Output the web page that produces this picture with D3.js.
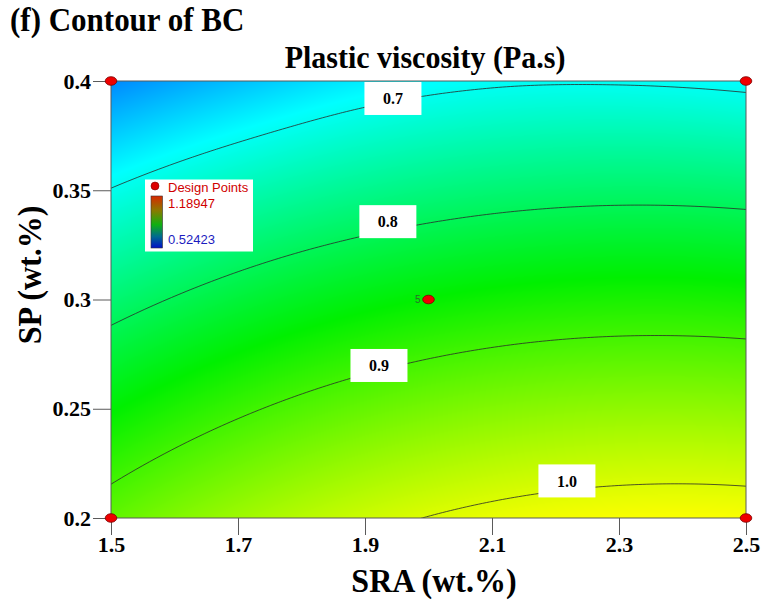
<!DOCTYPE html>
<html>
<head>
<meta charset="utf-8">
<script src="https://cdn.jsdelivr.net/npm/d3@7"></script>
<style>
  body { margin: 0; background: #fff; }
  svg { display: block; }
</style>
</head>
<body>
<svg id="chart" width="761" height="601"></svg>
<script>
// Plastic viscosity (Pa.s) surface over the SRA / SP design space
const sraLevels = [1.5, 1.7, 1.9, 2.1, 2.3, 2.5];
const spLevels = [0.2, 0.25, 0.3, 0.35, 0.4];
// one row per SP level (0.2 -> 0.4), one column per SRA level
const viscosity = [
  [0.9191, 0.9594, 0.9897, 1.0098, 1.0198, 1.0197],
  [0.8546, 0.8937, 0.9228, 0.9417, 0.9505, 0.9492],
  [0.7821, 0.8200, 0.8479, 0.8656, 0.8732, 0.8707],
  [0.7016, 0.7383, 0.7650, 0.7815, 0.7879, 0.7842],
  [0.6131, 0.6486, 0.6791, 0.6944, 0.6966, 0.6897]
];
const contourLevels = [0.7, 0.8, 0.9, 1.0];
const contourLabels = ["0.7", "0.8", "0.9", "1.0"];
const labelSRA = [1.944, 1.936, 1.922, 2.218];
const designSRA = [1.5, 1.5, 2.5, 2.5, 2.0];
const designSP = [0.2, 0.4, 0.2, 0.4, 0.3];
const designReps = [1, 1, 1, 1, 5];
const responseRange = [0.52423, 1.18947];
const responseRangeLabels = ["1.18947", "0.52423"];
const xTicks = [1.5, 1.7, 1.9, 2.1, 2.3, 2.5];
const xTickLabels = ["1.5", "1.7", "1.9", "2.1", "2.3", "2.5"];
const yTicks = [0.2, 0.25, 0.3, 0.35, 0.4];
const yTickLabels = ["0.2", "0.25", "0.3", "0.35", "0.4"];

const svg = d3.select("#chart");
const plot = { left: 111, right: 746, top: 81, bottom: 518 };
const pw = plot.right - plot.left, ph = plot.bottom - plot.top;

const x = d3.scaleLinear().domain([sraLevels[0], sraLevels[sraLevels.length - 1]]).range([plot.left, plot.right]);
const y = d3.scaleLinear().domain([spLevels[0], spLevels[spLevels.length - 1]]).range([plot.bottom, plot.top]);

// Smooth (Catmull-Rom) surface through the grid values
const uOf = d3.scaleLinear().domain(x.domain()).range([0, sraLevels.length - 1]);
const vOf = d3.scaleLinear().domain(y.domain()).range([0, spLevels.length - 1]);
function extend(p) {
  const n = p.length;
  return [3 * p[0] - 3 * p[1] + p[2], ...p, 3 * p[n - 1] - 3 * p[n - 2] + p[n - 3]];
}
const extRows = viscosity.map(extend);
function cubicExt(q, u) {
  const n = q.length - 2;
  const i = Math.max(0, Math.min(n - 2, Math.floor(u)));
  const s = u - i, s2 = s * s, s3 = s2 * s;
  const p0 = q[i + 1], p1 = q[i + 2];
  const m0 = (q[i + 2] - q[i]) / 2, m1 = (q[i + 3] - q[i + 1]) / 2;
  return (2 * s3 - 3 * s2 + 1) * p0 + (s3 - 2 * s2 + s) * m0 + (-2 * s3 + 3 * s2) * p1 + (s3 - s2) * m1;
}
function column(sra) {
  const u = uOf(sra);
  return extend(extRows.map(q => cubicExt(q, u)));
}
function surface(sra, sp) {
  return cubicExt(column(sra), vOf(sp));
}

// Colour ramp: blue -> cyan -> green -> yellow -> red across the response range
const [lo, hi] = responseRange;
const color = d3.scaleLinear()
  .domain(d3.range(5).map(i => lo + i * (hi - lo) / 4))
  .range(["#0000ff", "#00ffff", "#00f000", "#ffff00", "#ff0000"])
  .clamp(true);

// Filled surface rendered to a raster and placed in the plot
const canvas = document.createElement("canvas");
canvas.width = pw; canvas.height = ph;
const ctx = canvas.getContext("2d");
const img = ctx.createImageData(pw, ph);
for (let px = 0; px < pw; px++) {
  const sra = x.invert(plot.left + px + 0.5);
  const col = column(sra);
  for (let py = 0; py < ph; py++) {
    const sp = y.invert(plot.top + py + 0.5);
    const c = d3.rgb(color(cubicExt(col, vOf(sp))));
    const k = (py * pw + px) * 4;
    img.data[k] = c.r; img.data[k + 1] = c.g; img.data[k + 2] = c.b; img.data[k + 3] = 255;
  }
}
ctx.putImageData(img, 0, 0);

const defs = svg.append("defs");
defs.append("clipPath").attr("id", "plot-clip")
  .append("rect").attr("x", plot.left).attr("y", plot.top).attr("width", pw).attr("height", ph);

svg.append("image")
  .attr("x", plot.left).attr("y", plot.top)
  .attr("width", pw).attr("height", ph)
  .attr("preserveAspectRatio", "none")
  .attr("href", canvas.toDataURL());

// Contour lines from a fine resampling of the surface
const nx = 160, ny = 110;
const N = nx + 2, M = ny + 2;
const hx = (x.domain()[1] - x.domain()[0]) / (nx - 1);
const hy = (y.domain()[1] - y.domain()[0]) / (ny - 1);
const sraAt = c => x.domain()[0] + (c - 1.5) * hx;
const spAt = r => y.domain()[0] + (r - 1.5) * hy;
const values = new Array(N * M);
for (let j = 0; j < M; j++) {
  for (let i = 0; i < N; i++) {
    values[i + j * N] = surface(sraAt(i + 0.5), spAt(j + 0.5));
  }
}
const contours = d3.contours().size([N, M]).thresholds(contourLevels)(values);
const path = d3.geoPath(d3.geoTransform({
  point(c, r) { this.stream.point(x(sraAt(c)), y(spAt(r))); }
}));
svg.append("g").attr("clip-path", "url(#plot-clip)")
  .selectAll("path").data(contours).join("path")
  .attr("d", path)
  .attr("fill", "none")
  .attr("stroke", "#2a2a2a")
  .attr("stroke-width", 0.8);

// Contour labels on white boxes
function levelSP(sra, level) {
  let a = y.domain()[0], b = y.domain()[1];
  for (let k = 0; k < 50; k++) {
    const m = (a + b) / 2;
    if (surface(sra, m) > level) a = m; else b = m;
  }
  return (a + b) / 2;
}
const labelShift = [-3, -9, -5, -9];
const labels = svg.append("g").selectAll("g").data(contourLevels).join("g")
  .attr("transform", (d, i) => `translate(${x(labelSRA[i])},${y(levelSP(labelSRA[i], d)) + labelShift[i]})`);
labels.append("rect")
  .attr("x", -28.5).attr("y", -16.5).attr("width", 57).attr("height", 33)
  .attr("fill", "#fff");
labels.append("text")
  .attr("text-anchor", "middle").attr("dy", "0.35em")
  .attr("font-family", "'Liberation Serif', 'Times New Roman', serif")
  .attr("font-weight", "bold").attr("font-size", 16)
  .attr("fill", "#000")
  .text((d, i) => contourLabels[i]);

// Frame and axes
svg.append("rect")
  .attr("x", plot.left).attr("y", plot.top).attr("width", pw).attr("height", ph)
  .attr("fill", "none").attr("stroke", "#5a5a5a").attr("stroke-width", 1);

const serif = "'Liberation Serif', 'Times New Roman', serif";
const xAxis = svg.append("g").attr("transform", `translate(0,${plot.bottom})`)
  .call(d3.axisBottom(x).tickValues(xTicks).tickSize(17).tickPadding(1)
    .tickFormat((d, i) => xTickLabels[i]));
const yAxis = svg.append("g").attr("transform", `translate(${plot.left},0)`)
  .call(d3.axisLeft(y).tickValues(yTicks).tickSize(18).tickPadding(2)
    .tickFormat((d, i) => yTickLabels[i]));
[xAxis, yAxis].forEach(g => {
  g.select(".domain").remove();
  g.selectAll(".tick line").attr("stroke", "#5a5a5a");
  g.selectAll(".tick text")
    .attr("font-family", serif).attr("font-weight", "bold")
    .attr("font-size", 22).attr("fill", "#000");
});

// Design points
const pts = svg.append("g").selectAll("g").data(designSRA).join("g")
  .attr("transform", (d, i) => `translate(${x(d)},${y(designSP[i])})`);
pts.append("ellipse")
  .attr("rx", 5.8).attr("ry", 4.3)
  .attr("fill", "#ee0000").attr("stroke", "#7a0000").attr("stroke-width", 0.8);
pts.append("text")
  .attr("x", -8).attr("dy", "0.35em").attr("text-anchor", "end")
  .attr("font-family", "'Liberation Sans', Arial, sans-serif").attr("font-size", 10)
  .attr("fill", "#2d6b2d")
  .text((d, i) => designReps[i] > 1 ? designReps[i] : "");

// Legend
const sans = "'Liberation Sans', Arial, sans-serif";
const legend = svg.append("g");
legend.append("rect").attr("x", 145).attr("y", 179.5).attr("width", 108).attr("height", 72)
  .attr("fill", "#fff");
legend.append("ellipse").attr("cx", 155).attr("cy", 186).attr("rx", 4).attr("ry", 4)
  .attr("fill", "#dd0000").attr("stroke", "#7a0000").attr("stroke-width", 0.6);
legend.append("text").attr("x", 168).attr("y", 191.5)
  .attr("font-family", sans).attr("font-size", 13)
  .attr("fill", "#d00000").text("Design Points");
const grad = defs.append("linearGradient").attr("id", "ramp")
  .attr("x1", 0).attr("y1", 0).attr("x2", 0).attr("y2", 1);
[["0%", "#d82800"], ["28%", "#8a7a00"], ["55%", "#10b010"], ["78%", "#006a90"], ["100%", "#0010c8"]]
  .forEach(([o, c]) => grad.append("stop").attr("offset", o).attr("stop-color", c));
legend.append("rect").attr("x", 151).attr("y", 196).attr("width", 11.5).attr("height", 52)
  .attr("fill", "url(#ramp)").attr("stroke", "#333").attr("stroke-width", 0.6);
legend.append("text").attr("x", 168).attr("y", 208)
  .attr("font-family", sans).attr("font-size", 13)
  .attr("fill", "#d00000").text(responseRangeLabels[0]);
legend.append("text").attr("x", 168).attr("y", 243.5)
  .attr("font-family", sans).attr("font-size", 13)
  .attr("fill", "#1c1cc0").text(responseRangeLabels[1]);

// Titles
svg.append("text").attr("transform", "translate(10,31) scale(1,1.08)")
  .attr("font-family", serif).attr("font-weight", "bold").attr("font-size", 31)
  .text("(f) Contour of BC");
svg.append("text").attr("transform", "translate(425,68) scale(1,1.08)").attr("text-anchor", "middle")
  .attr("font-family", serif).attr("font-weight", "bold").attr("font-size", 30)
  .text("Plastic viscosity (Pa.s)");
svg.append("text").attr("transform", "translate(434,592) scale(1,1.05)").attr("text-anchor", "middle")
  .attr("font-family", serif).attr("font-weight", "bold").attr("font-size", 32)
  .text("SRA (wt.%)");
svg.append("text").attr("transform", "translate(41,275) rotate(-90) scale(1,1.05)").attr("text-anchor", "middle")
  .attr("font-family", serif).attr("font-weight", "bold").attr("font-size", 32)
  .text("SP (wt.%)");
</script>
</body>
</html>
